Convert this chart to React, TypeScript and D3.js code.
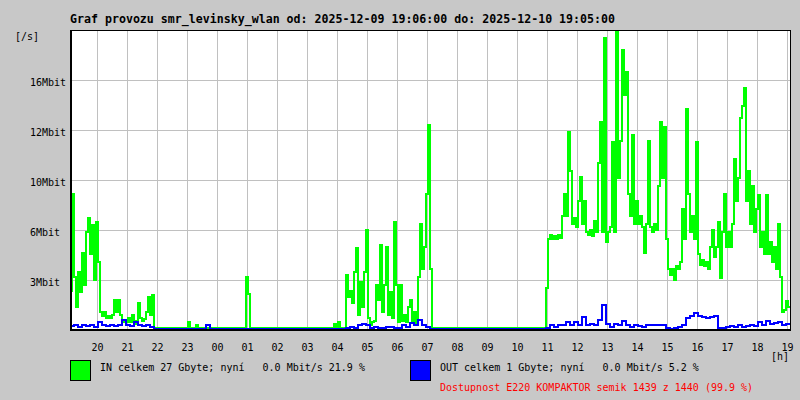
import React from "react";
import * as d3 from "d3";

const TITLE = "Graf provozu smr_levinsky_wlan od: 2025-12-09 19:06:00 do: 2025-12-10 19:05:00";
const HOURS = ["20","21","22","23","00","01","02","03","04","05","06","07","08","09","10","11","12","13","14","15","16","17","18","19"];
const Y_TICKS = [3.3, 6.6, 9.9, 13.2, 16.5];
const Y_LABELS = ["3Mbit", "6Mbit", "10Mbit", "12Mbit", "16Mbit"];
const Y_MAX = 19.8;
const SPAN_MIN = 1440;
const FIRST_HOUR_MIN = 54;
const STEP_IN_MIN = 4;
const STEP_OUT_MIN = 8;

// IN traffic [Mbit/s], one value per 4 minutes from 19:06
const IN_VALUES = [
  2.6, 9.0, 3.5, 1.5, 3.8, 2.5, 5.1, 3.0, 6.5, 7.4,
  5.0, 6.9, 3.3, 7.1, 4.5, 1.2, 0.9, 1.2, 0.8, 0.9,
  0.8, 1.0, 2.0, 1.2, 2.0, 1.0, 0.5, 0.6, 0.5, 0.8,
  0.5, 1.0, 0.6, 0.4, 1.8, 0.8, 0.6, 0.7, 1.2, 2.2,
  1.0, 2.3, 0.1, 0.1, 0.1, 0.1, 0.1, 0.1, 0.1, 0.1,
  0.1, 0.1, 0.1, 0.1, 0.1, 0.1, 0.1, 0.1, 0.1, 0.5,
  0.1, 0.1, 0.1, 0.3, 0.1, 0.1, 0.1, 0.1, 0.1, 0.15,
  0.1, 0.1, 0.1, 0.1, 0.1, 0.1, 0.1, 0.1, 0.1, 0.1,
  0.1, 0.1, 0.1, 0.1, 0.1, 0.1, 0.1, 0.1, 3.5, 2.4,
  0.1, 0.1, 0.1, 0.1, 0.1, 0.1, 0.1, 0.1, 0.1, 0.1,
  0.1, 0.1, 0.1, 0.1, 0.1, 0.1, 0.1, 0.1, 0.1, 0.1,
  0.1, 0.1, 0.1, 0.1, 0.1, 0.1, 0.1, 0.1, 0.1, 0.1,
  0.1, 0.1, 0.1, 0.1, 0.1, 0.1, 0.1, 0.1, 0.1, 0.1,
  0.1, 0.1, 0.4, 0.1, 0.5, 0.1, 0.1, 0.1, 3.6, 2.2,
  2.6, 1.8, 3.8, 5.4, 1.0, 3.2, 1.5, 3.8, 6.6, 0.8,
  0.3, 0.5, 0.6, 3.0, 2.0, 5.6, 1.2, 3.0, 5.5, 1.0,
  2.5, 0.8, 7.1, 3.0, 0.5, 3.0, 0.6, 1.0, 0.5, 1.5,
  2.0, 0.5, 1.2, 0.3, 3.5, 7.0, 4.0, 5.5, 9.0, 13.5,
  4.0, 0.1, 0.1, 0.1, 0.1, 0.1, 0.1, 0.1, 0.1, 0.1,
  0.1, 0.1, 0.1, 0.1, 0.1, 0.1, 0.1, 0.1, 0.1, 0.1,
  0.1, 0.1, 0.1, 0.1, 0.1, 0.1, 0.1, 0.1, 0.1, 0.1,
  0.1, 0.1, 0.1, 0.1, 0.1, 0.1, 0.1, 0.1, 0.1, 0.1,
  0.1, 0.1, 0.1, 0.1, 0.1, 0.1, 0.1, 0.1, 0.1, 0.1,
  0.1, 0.1, 0.1, 0.1, 0.1, 0.1, 0.1, 0.1, 2.8, 6.0,
  6.3, 6.0, 6.2, 6.0, 6.3, 6.1, 7.5, 9.0, 7.5, 13.1,
  10.5, 7.0, 7.4, 6.8, 8.5, 10.1, 7.0, 8.5, 6.5, 6.3,
  6.6, 6.2, 7.2, 6.5, 11.0, 13.7, 6.5, 19.3, 5.8, 6.5,
  6.8, 12.4, 6.5, 19.9, 10.0, 12.5, 18.5, 15.5, 17.0, 9.0,
  7.5, 12.9, 7.0, 8.5, 7.0, 7.5, 6.8, 5.1, 7.0, 12.5,
  6.8, 6.5, 7.0, 6.6, 9.5, 13.7, 10.0, 13.4, 6.0, 4.0,
  3.6, 4.0, 3.3, 4.2, 4.0, 4.5, 8.0, 6.0, 14.6, 9.0,
  6.5, 7.5, 6.0, 12.4, 5.0, 4.3, 4.6, 4.2, 4.5, 4.0,
  5.5, 6.6, 4.8, 5.5, 7.1, 3.4, 6.5, 9.0, 5.5, 6.5,
  5.5, 7.0, 11.3, 8.5, 10.0, 14.0, 14.8, 16.0, 8.5, 10.5,
  7.0, 9.5, 6.5, 8.0, 8.9, 5.5, 6.5, 5.0, 8.9, 5.0,
  5.8, 4.5, 5.5, 4.0, 7.0, 3.5, 1.2, 1.3, 1.9, 1.5,
];

// OUT traffic [Mbit/s], one value per 8 minutes from 19:06
const OUT_VALUES = [
  0.25, 0.3, 0.2, 0.3, 0.25, 0.3, 0.2, 0.55, 0.3, 0.25,
  0.3, 0.25, 0.3, 0.66, 0.3, 0.25, 0.55, 0.3, 0.25, 0.3,
  0.2, 0.05, 0.05, 0.05, 0.05, 0.05, 0.05, 0.05, 0.05, 0.05,
  0.05, 0.05, 0.05, 0.05, 0.3, 0.05, 0.05, 0.05, 0.05, 0.05,
  0.05, 0.05, 0.05, 0.05, 0.05, 0.05, 0.05, 0.05, 0.05, 0.05,
  0.05, 0.05, 0.05, 0.05, 0.05, 0.05, 0.05, 0.05, 0.05, 0.05,
  0.05, 0.05, 0.05, 0.05, 0.05, 0.05, 0.05, 0.05, 0.05, 0.1,
  0.2, 0.1, 0.3, 0.4, 0.35, 0.1, 0.2, 0.15, 0.1, 0.2,
  0.2, 0.1, 0.15, 0.3, 0.2, 0.45, 0.3, 0.66, 0.3, 0.2,
  0.05, 0.05, 0.05, 0.05, 0.05, 0.05, 0.05, 0.05, 0.05, 0.05,
  0.05, 0.05, 0.05, 0.05, 0.05, 0.05, 0.05, 0.05, 0.05, 0.05,
  0.05, 0.05, 0.05, 0.05, 0.05, 0.05, 0.05, 0.05, 0.05, 0.15,
  0.3, 0.2, 0.3, 0.3, 0.55, 0.3, 0.5, 0.35, 0.88, 0.35,
  0.4, 0.35, 0.66, 1.65, 0.4, 0.2, 0.4, 0.3, 0.6, 0.3,
  0.2, 0.3, 0.25, 0.2, 0.3, 0.35, 0.3, 0.3, 0.3, 0.1,
  0.05, 0.1, 0.2, 0.3, 0.8, 0.9, 1.1, 0.9, 0.85, 0.8,
  0.85, 0.9, 0.15, 0.1, 0.2, 0.25, 0.2, 0.3, 0.2, 0.25,
  0.3, 0.25, 0.5, 0.35, 0.6, 0.4, 0.45, 0.55, 0.3, 0.4,
];

const LEGEND_IN = "IN celkem 27 Gbyte; nyní   0.0 Mbit/s 21.9 %";
const LEGEND_OUT = "OUT celkem 1 Gbyte; nyní   0.0 Mbit/s 5.2 %";
const AVAIL = "Dostupnost E220 KOMPAKTOR semik 1439 z 1440 (99.9 %)";

const W = 800;
const H = 400;
const L = 70, R = 790, T = 30, B = 330;
const FONT = "'DejaVu Sans Mono', 'Liberation Mono', monospace";
const BG = "#c8c8c8";
const GRID = "#c0c0c0";

export default function App() {
  const x = d3.scaleLinear().domain([0, SPAN_MIN]).range([L, R]);
  const y = d3.scaleLinear().domain([0, Y_MAX]).range([B, T]);

  const mkLine = (vals: number[], step: number) => {
    const pts: [number, number][] = vals.map((v, i) => [i * step, v]);
    pts.push([vals.length * step, vals[vals.length - 1]]);
    return d3
      .line<[number, number]>()
      .x((d) => x(d[0]))
      .y((d) => y(d[1]))
      .curve(d3.curveStepAfter)(pts) as string;
  };

  const hourX = HOURS.map((_, i) => Math.round(x(FIRST_HOUR_MIN + 60 * i)));

  return (
    <div style={{ position: "absolute", left: 0, top: 0 }}>
      <svg width={W} height={H} style={{ display: "block" }}>
        <defs>
          <clipPath id="plotclip">
            <rect x={L} y={T} width={R - L} height={B - T} />
          </clipPath>
        </defs>
        <rect x={0} y={0} width={W} height={H} fill={BG} />
        <text x={70} y={23} fontFamily={FONT} fontWeight="bold" fontSize={11.6} textLength={545} lengthAdjust="spacing" fill="#000">
          {TITLE}
        </text>
        <text x={15} y={39.5} fontFamily={FONT} fontSize={10} fill="#000">[/s]</text>
        <rect x={L} y={T} width={R - L} height={B - T} fill="#fff" />
        {hourX.map((hx, i) => (
          <line key={"vg" + i} x1={hx + 0.5} x2={hx + 0.5} y1={T} y2={B} stroke={GRID} strokeWidth={1} />
        ))}
        {Y_TICKS.map((v, i) => (
          <line key={"hg" + i} x1={L} x2={R} y1={Math.round(y(v)) + 0.5} y2={Math.round(y(v)) + 0.5} stroke={GRID} strokeWidth={1} />
        ))}
        <g clipPath="url(#plotclip)">
          <path d={mkLine(IN_VALUES, STEP_IN_MIN)} fill="none" stroke="#00ff00" strokeWidth={2} shapeRendering="crispEdges" />
          <path d={mkLine(OUT_VALUES, STEP_OUT_MIN)} fill="none" stroke="#0000ff" strokeWidth={2} shapeRendering="crispEdges" />
        </g>
        <rect x={L + 0.5} y={T + 0.5} width={R - L} height={B - T} fill="none" stroke="#000" strokeWidth={1} />
        <line x1={L + 1} x2={L + 1} y1={T} y2={B + 1} stroke="#000" strokeWidth={2} />
        <line x1={L} x2={R + 1} y1={B} y2={B} stroke="#000" strokeWidth={2} />
        {Y_TICKS.map((v, i) => (
          <text key={"yl" + i} x={30} y={Math.round(y(v)) + 6} fontFamily={FONT} fontSize={10} fill="#000">
            {Y_LABELS[i]}
          </text>
        ))}
        {HOURS.map((h, i) => (
          <text key={"hl" + i} x={hourX[i] + 0.5} y={351} textAnchor="middle" fontFamily={FONT} fontSize={10} fill="#000">
            {h}
          </text>
        ))}
        <text x={771} y={360} fontFamily={FONT} fontSize={10} fill="#000">[h]</text>
        <rect x={70.5} y={360.5} width={20} height={20} fill="#00ff00" stroke="#000" strokeWidth={1} />
        <text x={100} y={371} fontFamily={FONT} fontSize={10} fill="#000" style={{ whiteSpace: "pre" }}>
          {LEGEND_IN}
        </text>
        <rect x={410.5} y={360.5} width={20} height={20} fill="#0000ff" stroke="#000" strokeWidth={1} />
        <text x={440} y={371} fontFamily={FONT} fontSize={10} fill="#000" style={{ whiteSpace: "pre" }}>
          {LEGEND_OUT}
        </text>
        <text x={440} y={390.5} fontFamily={FONT} fontSize={10} fill="#ff0000" style={{ whiteSpace: "pre" }}>
          {AVAIL}
        </text>
      </svg>
    </div>
  );
}
